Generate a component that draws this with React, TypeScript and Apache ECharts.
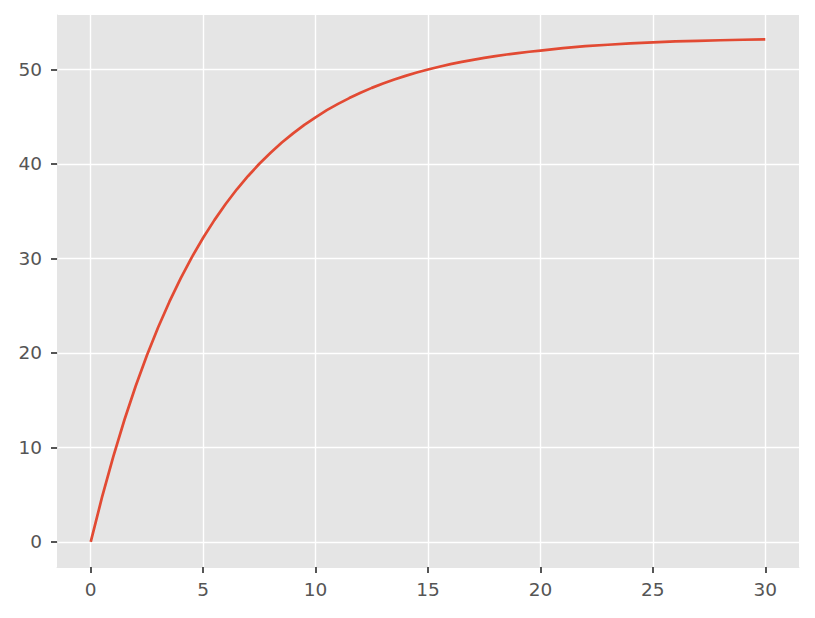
import React, { useEffect, useRef } from "react";
import * as echarts from "echarts";

const xValues: number[] = [
  0, 0.5, 1, 1.5, 2, 2.5, 3, 3.5, 4, 4.5, 5, 5.5, 6, 6.5, 7, 7.5, 8, 8.5, 9, 9.5,
  10, 10.5, 11, 11.5, 12, 12.5, 13, 13.5, 14, 14.5, 15, 15.5, 16, 16.5, 17, 17.5,
  18, 18.5, 19, 19.5, 20, 21, 22, 23, 24, 25, 26, 27, 28, 29, 30,
];
const yValues: number[] = [
  0, 4.71, 9.01, 12.93, 16.5, 19.75, 22.72, 25.42, 27.89, 30.14, 32.18, 34.05, 35.75,
  37.31, 38.72, 40.01, 41.18, 42.26, 43.23, 44.12, 44.93, 45.68, 46.35, 46.96, 47.52,
  48.04, 48.5, 48.93, 49.31, 49.66, 49.99, 50.28, 50.55, 50.79, 51.01, 51.21, 51.4,
  51.57, 51.72, 51.86, 51.99, 52.25, 52.45, 52.6, 52.75, 52.85, 52.95, 53.02, 53.08,
  53.13, 53.17,
];
const xTicks: number[] = [0, 5, 10, 15, 20, 25, 30];
const yTicks: number[] = [0, 10, 20, 30, 40, 50];

export default function App() {
  const ref = useRef<HTMLDivElement>(null);
  useEffect(() => {
    if (!ref.current) return;
    const chart = echarts.init(ref.current, undefined, { renderer: "svg" });
    const font = "DejaVu Sans";
    const labelColor = "#555555";
    chart.setOption({
      animation: false,
      grid: {
        left: 57,
        right: 16,
        top: 15,
        bottom: 51,
        show: true,
        backgroundColor: "#E5E5E5",
        borderWidth: 0,
      },
      xAxis: {
        type: "value",
        min: -1.5,
        max: 31.5,
        axisLine: { show: true, onZero: false, lineStyle: { color: "#E5E5E5", width: 1 } },
        axisTick: {
          show: true,
          customValues: xTicks,
          length: 6,
          lineStyle: { color: "#555555", width: 2 },
        },
        axisLabel: {
          customValues: xTicks,
          color: labelColor,
          fontFamily: font,
          fontSize: 18.5,
          margin: 13,
        },
        splitLine: { show: true, lineStyle: { color: "#ffffff", width: 1.4 } },
      },
      yAxis: {
        type: "value",
        min: -2.65,
        max: 55.75,
        axisLine: { show: true, onZero: false, lineStyle: { color: "#E5E5E5", width: 1 } },
        axisTick: {
          show: true,
          customValues: yTicks,
          length: 6,
          lineStyle: { color: "#555555", width: 2 },
        },
        axisLabel: {
          customValues: yTicks,
          color: labelColor,
          fontFamily: font,
          fontSize: 18.5,
          margin: 15,
        },
        splitLine: { show: true, lineStyle: { color: "#ffffff", width: 1.4 } },
      },
      series: [
        {
          type: "line",
          data: xValues.map((x, i) => [x, yValues[i]]),
          showSymbol: false,
          symbol: "none",
          lineStyle: { color: "#E24A33", width: 2.7 },
          smooth: false,
        },
      ],
    });
    return () => chart.dispose();
  }, []);
  return <div ref={ref} style={{ width: 815, height: 618, margin: -8 }} />;
}
